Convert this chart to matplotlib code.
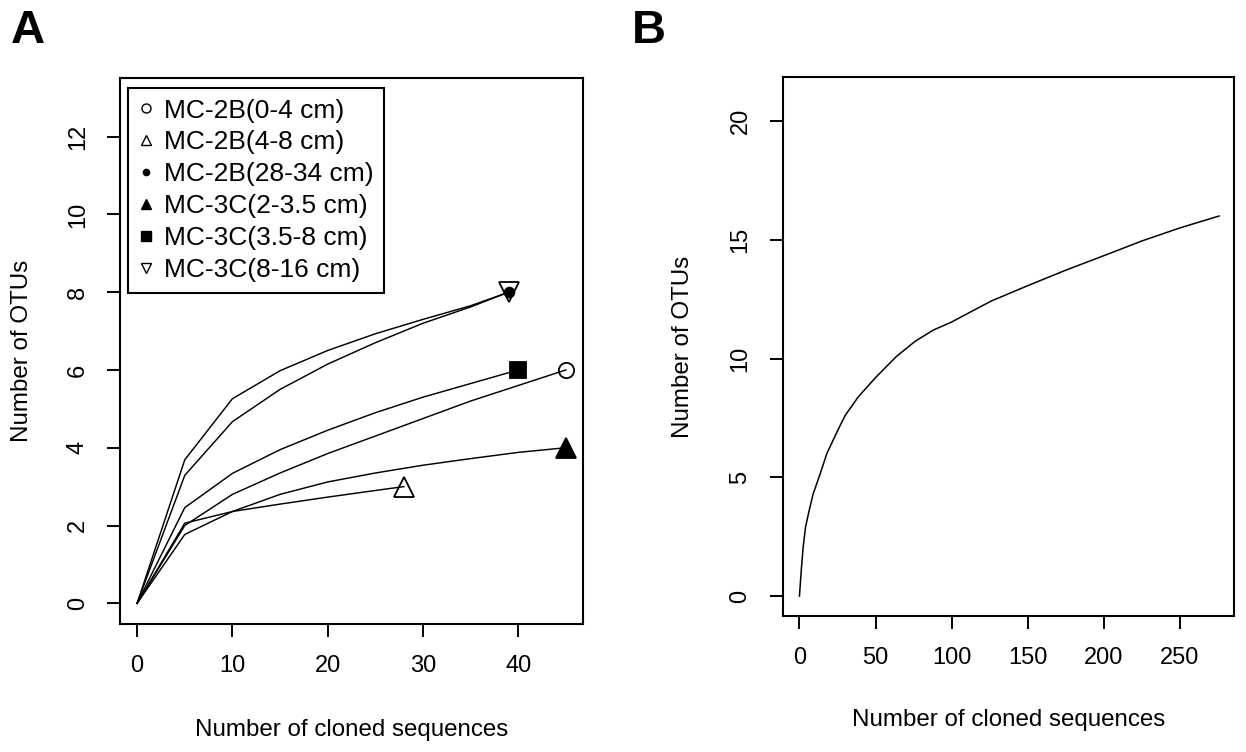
import matplotlib
matplotlib.use("Agg")
import matplotlib.pyplot as plt
from matplotlib.lines import Line2D

plt.rcParams['font.family'] = ['Liberation Sans', 'DejaVu Sans']

# ---------------- Panel A data ----------------
series_labels = ["MC-2B(0-4 cm)", "MC-2B(4-8 cm)", "MC-2B(28-34 cm)",
                 "MC-3C(2-3.5 cm)", "MC-3C(3.5-8 cm)", "MC-3C(8-16 cm)"]
x_2B_0_4 = [0, 5, 10, 15, 20, 25, 30, 35, 40, 45]
y_2B_0_4 = [0, 2.0, 2.8, 3.35, 3.85, 4.3, 4.75, 5.2, 5.6, 6.0]
x_2B_4_8 = [0, 5, 10, 15, 20, 25, 28]
y_2B_4_8 = [0, 2.06, 2.36, 2.55, 2.73, 2.9, 3.0]
x_2B_28_34 = [0, 5, 10, 15, 20, 25, 30, 35, 39]
y_2B_28_34 = [0, 3.29, 4.67, 5.5, 6.15, 6.7, 7.2, 7.62, 8.0]
x_3C_2_35 = [0, 5, 10, 15, 20, 25, 30, 35, 40, 45]
y_3C_2_35 = [0, 1.77, 2.36, 2.8, 3.12, 3.35, 3.55, 3.72, 3.88, 4.0]
x_3C_35_8 = [0, 5, 10, 15, 20, 25, 30, 35, 40]
y_3C_35_8 = [0, 2.46, 3.34, 3.95, 4.45, 4.9, 5.3, 5.65, 6.0]
x_3C_8_16 = [0, 5, 10, 15, 20, 25, 30, 35, 39]
y_3C_8_16 = [0, 3.69, 5.26, 5.98, 6.5, 6.93, 7.3, 7.65, 8.0]

xticks_A = [0, 10, 20, 30, 40]
yticks_A = [0, 2, 4, 6, 8, 10, 12]

# ---------------- Panel B data ----------------
x_total = [0, 1.25, 2.5, 4, 6.2, 9, 13.7, 18, 24.9, 30, 38.7, 49.9, 63.6, 76.1, 88,
           99.8, 110, 126, 149.7, 175, 200.8, 225, 250, 275.7]
y_total = [0, 1.13, 2.1, 2.9, 3.55, 4.3, 5.16, 6.0, 6.94, 7.6, 8.39, 9.19, 10.08, 10.73, 11.2,
           11.53, 11.88, 12.42, 13.06, 13.72, 14.35, 14.95, 15.5, 16.0]
xticks_B = [0, 50, 100, 150, 200, 250]
yticks_B = [0, 5, 10, 15, 20]

FS = 17
FS_LAB = 17.4
FS_LEG = 19
W, H = 1246, 752
fig = plt.figure(figsize=(W / 100, H / 100), dpi=100)

def rect(l, t, r, b):
    return [l / W, 1 - b / H, (r - l) / W, (b - t) / H]

axA = fig.add_axes(rect(120, 77.5, 583, 623.5))
axB = fig.add_axes(rect(782.7, 77.3, 1234, 616))

styles = [
    dict(marker='o', ms=11, mfc='none'),
    dict(marker='^', ms=15, mfc='none'),
    dict(marker='o', ms=7, mfc='black'),
    dict(marker='^', ms=14, mfc='black'),
    dict(marker='s', ms=12, mfc='black'),
    dict(marker='v', ms=14, mfc='none'),
]
leg_ms = [6.5, 7.5, 4.5, 7.5, 6.5, 7.5]
data = [(x_2B_0_4, y_2B_0_4), (x_2B_4_8, y_2B_4_8), (x_2B_28_34, y_2B_28_34),
        (x_3C_2_35, y_3C_2_35), (x_3C_35_8, y_3C_35_8), (x_3C_8_16, y_3C_8_16)]

handles = []
for (xs, ys), st, lab, lms in zip(data, styles, series_labels, leg_ms):
    axA.plot(xs, ys, color='black', lw=1.05)
    axA.plot(xs[-1:], ys[-1:], linestyle='none', marker=st['marker'], ms=st['ms'],
             mfc=st['mfc'], mec='black', mew=1.3)
    handles.append(Line2D([], [], linestyle='none', marker=st['marker'], ms=lms,
                          mfc=st['mfc'], mec='black', mew=1.0, label=lab))

axA.set_xlim(-1.8, 46.8)
axA.set_ylim(-0.52, 13.52)
axA.set_xticks(xticks_A)
axA.set_yticks(yticks_A)

leg = axA.legend(handles=handles, loc='upper left',
                 bbox_to_anchor=((128 - 120) / 463, (623.5 - 88) / 546),
                 borderaxespad=0, frameon=True, fancybox=False, fontsize=FS_LEG,
                 labelspacing=0.3, handlelength=0.6, handletextpad=0.35,
                 borderpad=0.4, framealpha=1)
leg.get_frame().set_edgecolor('black')
leg.get_frame().set_linewidth(1.5)

axB.plot(x_total, y_total, color='black', lw=1.1)
axB.set_xlim(-11, 285.5)
axB.set_ylim(-0.84, 21.84)
axB.set_xticks(xticks_B)
axB.set_yticks(yticks_B)

for ax in (axA, axB):
    for sp in ax.spines.values():
        sp.set_linewidth(1.5)
    ax.tick_params(axis='both', direction='out', length=9.5, width=1.4,
                   labelsize=FS, pad=13)
    for lab in ax.get_yticklabels():
        lab.set_rotation(90)
        lab.set_va('center')
        lab.set_ha('right')
    ax.set_xlabel("Number of cloned sequences", fontsize=FS_LAB)
    ax.set_ylabel("Number of OTUs", fontsize=FS_LAB)

axA.xaxis.set_label_coords(0.5, (623.5 - 730) / 546)
axA.yaxis.set_label_coords((22 - 120) / 463, 0.5)
axB.xaxis.set_label_coords(0.5, (616 - 720) / 538.7)
axB.yaxis.set_label_coords((683 - 782.7) / 451.3, 0.5)
for ax in (axA, axB):
    ax.xaxis.label.set_va('center')
    ax.yaxis.label.set_va('center')

fig.text(11 / W, 1 - 43 / H, "A", fontsize=34, fontweight='bold', ha='left', va='baseline')
fig.text(632 / W, 1 - 43 / H, "B", fontsize=34, fontweight='bold', ha='left', va='baseline')

fig.savefig("out.png", dpi=100)
